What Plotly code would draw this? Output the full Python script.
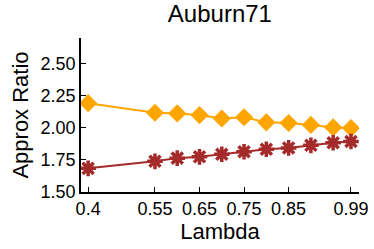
import plotly.graph_objects as go

lam = [0.4, 0.55, 0.6, 0.65, 0.7, 0.75, 0.8, 0.85, 0.9, 0.95, 0.99]
orange_vals = [2.19, 2.115, 2.11, 2.097, 2.07, 2.08, 2.04, 2.035, 2.02, 2.0, 1.995]
red_vals = [1.68, 1.735, 1.76, 1.77, 1.79, 1.81, 1.83, 1.84, 1.86, 1.88, 1.89]
x_tickvals = [0.4, 0.55, 0.65, 0.75, 0.85, 0.99]
x_ticktext = ["0.4", "0.55", "0.65", "0.75", "0.85", "0.99"]
y_tickvals = [1.5, 1.75, 2.0, 2.25, 2.5]

fig = go.Figure()
fig.add_trace(go.Scatter(x=lam, y=orange_vals, mode="lines+markers",
                         line=dict(color="#FFA500", width=2),
                         marker=dict(symbol="diamond", size=14, color="#FFA500")))
fig.add_trace(go.Scatter(x=lam, y=red_vals, mode="lines+markers",
                         line=dict(color="#A52A2A", width=2),
                         marker=dict(symbol="asterisk-open", size=13, color="#A52A2A",
                                     line=dict(color="#A52A2A", width=3.5))))

font = "Liberation Sans, Arial, sans-serif"
fig.update_layout(
    width=374, height=249,
    margin=dict(l=81, r=15, t=38, b=57),
    paper_bgcolor="white", plot_bgcolor="white",
    showlegend=False,
    font=dict(family=font, color="black"),
    title=dict(text="Auburn71", x=0.588, xanchor="center", y=0.945, yanchor="middle",
               font=dict(size=24, family=font, color="black")),
)
fig.update_xaxes(range=[0.384, 1.008], tickvals=x_tickvals, ticktext=x_ticktext,
                 ticks="inside", ticklen=5, tickwidth=1, tickcolor="black",
                 showline=True, linecolor="black", linewidth=1.5, showgrid=False, zeroline=False,
                 automargin=False, ticklabeloverflow="allow",
                 tickfont=dict(size=18, family=font, color="black"),
                 title=dict(text="Lambda", font=dict(size=22, family=font, color="black"), standoff=4))
fig.update_yaxes(range=[1.495, 2.70], tickvals=y_tickvals, tickformat=".2f",
                 ticks="inside", ticklen=5, tickwidth=1, tickcolor="black",
                 showline=True, linecolor="black", linewidth=1.5, showgrid=False, zeroline=False,
                 automargin=False,
                 tickfont=dict(size=18, family=font, color="black"),
                 title=dict(text="Approx Ratio", font=dict(size=22, family=font, color="black"), standoff=6))

fig.write_html("out.html", config={"displayModeBar": False},
               post_script="document.body.style.margin='0';")
